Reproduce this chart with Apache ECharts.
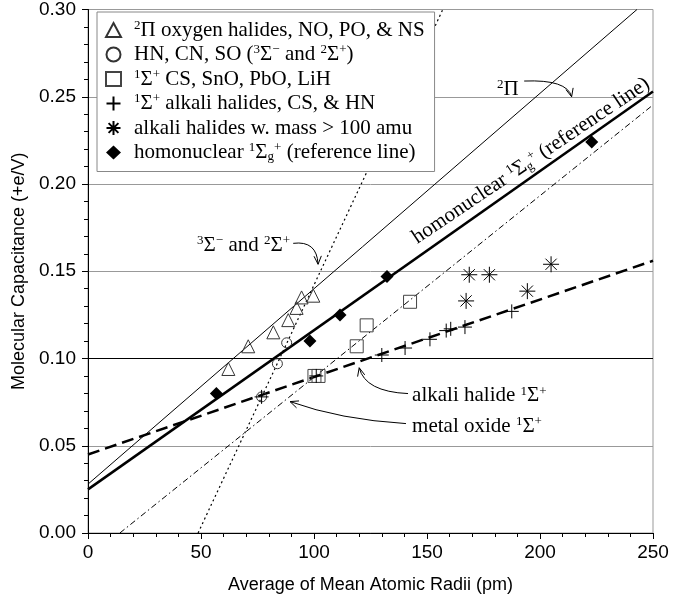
<!DOCTYPE html>
<html>
<head>
<meta charset="utf-8">
<script src="https://cdn.jsdelivr.net/npm/echarts@6/dist/echarts.min.js"></script>
<style>
html, body { margin: 0; padding: 0; background: #fff; }
#chart { width: 695px; height: 599px; }
</style>
</head>
<body>
<div id="chart"></div>
<script>
const xTicks = [0, 50, 100, 150, 200, 250]
const yTicks = [0, 0.05, 0.10, 0.15, 0.20, 0.25, 0.30]

// measured points [radius pm, capacitance e/V]
const piPts = [[62.1, 0.094], [70.9, 0.107], [82.0, 0.115], [88.6, 0.122], [92.3, 0.129], [94.5, 0.135], [99.7, 0.136]]
const mixPts = [[76.8, 0.078], [83.8, 0.097], [87.9, 0.109]]
const oxidePts = [[100.2, 0.090], [102.0, 0.090], [118.9, 0.107], [123.3, 0.119], [142.5, 0.1325]]
const alkaliPts = [[76.8, 0.078], [101.0, 0.090], [130.0, 0.102], [140.3, 0.106], [151.3, 0.111], [158.5, 0.116], [160.5, 0.117], [166.8, 0.118], [187.5, 0.127]]
const heavyPts = [[167.3, 0.133], [168.7, 0.148], [177.6, 0.148], [194.4, 0.1386], [204.9, 0.154]]
const homoPts = [[56.8, 0.080], [98.2, 0.110], [111.5, 0.125], [132.3, 0.147], [222.9, 0.224]]

// fitted lines (end points)
const piFit = [[0, 0.028], [242.9, 0.30]]
const homoFit = [[0, 0.025], [250, 0.253]]
const alkaliFit = [[0, 0.045], [250, 0.156]]
const oxideFit = [[14.1, 0], [250, 0.2453]]
const sigmaFit = [[48.7, 0], [157, 0.30]]

const serif = 'Liberation Serif'
const sans = 'Liberation Sans'

const legendText = {
    pi: '{gap| }{sup|2}Π oxygen halides, NO, PO, & NS',
    mix: '{gap| }HN, CN, SO ({sup|3}Σ{sup|−} and {sup|2}Σ{sup|+})',
    oxide: '{gap| }{sup|1}Σ{sup|+} CS, SnO, PbO, LiH',
    alkali: '{gap| }{sup|1}Σ{sup|+} alkali halides, CS, & HN',
    heavy: '{gap| }alkali halides w. mass > 100 amu',
    homo: '{gap| }homonuclear {sup|1}Σ{sub|g}{sup|+} (reference line)'
}

const plusPath = 'path://M0,5L10,5M5,0L5,10'
const starPath = 'path://M0,5L10,5M5,0L5,10M1.5,1.5L8.5,8.5M8.5,1.5L1.5,8.5'

const hollow = c => ({ color: 'transparent', borderColor: c, borderWidth: 1, opacity: 1 })

function scatter(name, data, symbol, size, itemStyle) {
    return {
        name: name,
        type: 'scatter',
        data: data,
        symbol: symbol,
        symbolSize: size,
        itemStyle: itemStyle,
        z: 5,
        silent: true
    }
}

function fit(data, width, type) {
    return {
        type: 'line',
        data: data,
        symbol: 'none',
        silent: true,
        z: 2,
        lineStyle: { color: '#000', width: width, type: type }
    }
}

const rich = {
    sup: { fontFamily: serif, fontSize: 13, lineHeight: 13, verticalAlign: 'top' },
    sub: { fontFamily: serif, fontSize: 13, lineHeight: 13, verticalAlign: 'bottom' },
    gap: { fontSize: 4, width: 8 }
}

const chart = echarts.init(document.getElementById('chart'))

const axisLabelStyle = { fontFamily: sans, fontSize: 19, color: '#000' }

chart.setOption({
    animation: false,
    grid: {
        left: 88, right: 42, top: 8, bottom: 65,
        show: true, borderColor: '#999', borderWidth: 1
    },
    legend: {
        left: 97, top: 12,
        orient: 'vertical',
        data: Object.keys(legendText),
        formatter: name => legendText[name],
        itemWidth: 15, itemHeight: 14, itemGap: 2.5,
        padding: [7, 10, 8, 8],
        backgroundColor: '#fff',
        borderColor: '#888', borderWidth: 1,
        textStyle: { fontFamily: serif, fontSize: 21, color: '#000', lineHeight: 22, rich: rich }
    },
    xAxis: [{
        type: 'value',
        min: xTicks[0], max: xTicks[xTicks.length - 1], interval: 50,
        name: 'Average of Mean Atomic Radii (pm)',
        nameLocation: 'middle', nameGap: 43,
        nameTextStyle: { fontFamily: sans, fontSize: 18, color: '#000' },
        axisLine: { lineStyle: { color: '#000', width: 1 } },
        axisTick: { inside: false, length: 5, lineStyle: { color: '#000' } },
        axisLabel: Object.assign({ margin: 10 }, axisLabelStyle),
        splitLine: { show: false }
    }, {
        type: 'value',
        min: xTicks[0], max: xTicks[xTicks.length - 1], interval: 50,
        axisLine: { show: false },
        axisTick: { inside: true, length: 6, lineStyle: { color: '#000' } },
        minorTick: { show: true, splitNumber: 5, length: 4, lineStyle: { color: '#000' } },
        axisLabel: { show: false },
        splitLine: { show: false }
    }],
    yAxis: [{
        type: 'value',
        min: yTicks[0], max: yTicks[yTicks.length - 1], interval: 0.05,
        name: 'Molecular Capacitance (+e/V)',
        nameLocation: 'middle', nameGap: 51,
        nameTextStyle: { fontFamily: sans, fontSize: 18, color: '#000' },
        axisLine: { lineStyle: { color: '#000', width: 1 } },
        axisTick: { inside: false, length: 5, lineStyle: { color: '#000' } },
        axisLabel: Object.assign({ margin: 12, formatter: v => v.toFixed(2) }, axisLabelStyle),
        splitLine: {
            show: true,
            lineStyle: { color: ['#000', '#999', '#000', '#999', '#999', '#999', '#999'], width: 1 }
        }
    }, {
        type: 'value',
        min: yTicks[0], max: yTicks[yTicks.length - 1], interval: 0.05,
        axisLine: { show: false },
        axisTick: { inside: true, length: 6, lineStyle: { color: '#000' } },
        minorTick: { show: true, splitNumber: 5, length: 4, lineStyle: { color: '#000' } },
        axisLabel: { show: false },
        splitLine: { show: false }
    }],
    series: [
        scatter('pi', piPts, 'triangle', 13, hollow('#333')),
        scatter('mix', mixPts, 'circle', 10, hollow('#333')),
        scatter('oxide', oxidePts, 'rect', 13, hollow('#444')),
        scatter('alkali', alkaliPts, plusPath, 14, hollow('#000')),
        scatter('heavy', heavyPts, starPath, 16, hollow('#000')),
        scatter('homo', homoPts, 'diamond', 13, { color: '#000', opacity: 1 }),
        fit(piFit, 1, 'solid'),
        fit(homoFit, 2.5, 'solid'),
        fit(alkaliFit, 2.5, [12, 6]),
        fit(oxideFit, 1, [6, 3, 1.5, 3]),
        fit(sigmaFit, 1.2, [2, 3])
    ]
})

// annotations, anchored in data coordinates
const px = p => chart.convertToPixel({ seriesIndex: 0 }, p)

function label(at, text, align, extra) {
    const p = px(at)
    return Object.assign({
        type: 'text', x: p[0], y: p[1], z: 10,
        style: {
            text: text, fontFamily: serif, fontSize: 21, fill: '#000',
            align: align, verticalAlign: 'middle', lineHeight: 22, rich: rich
        }
    }, extra || {})
}

function arrow(a, c, b) {
    const p0 = px(a), p1 = px(c), p2 = px(b)
    const ang = Math.atan2(p2[1] - p1[1], p2[0] - p1[0])
    const L = 9, w = 0.42
    return [{
        type: 'bezierCurve', z: 10,
        shape: { x1: p0[0], y1: p0[1], cpx1: p1[0], cpy1: p1[1], x2: p2[0], y2: p2[1] },
        style: { stroke: '#000', fill: 'none', lineWidth: 1 }
    }, {
        type: 'polyline', z: 10,
        shape: { points: [
            [p2[0] - L * Math.cos(ang - w), p2[1] - L * Math.sin(ang - w)],
            p2,
            [p2[0] - L * Math.cos(ang + w), p2[1] - L * Math.sin(ang + w)]
        ] },
        style: { stroke: '#000', fill: 'none', lineWidth: 1 }
    }]
}

const h0 = px(homoFit[0]), h1 = px(homoFit[1])
const homoAngle = Math.atan2(h0[1] - h1[1], h1[0] - h0[0]) - 0.02

const graphics = [
    label([181, 0.2544], '{sup|2}Π', 'left'),
    label([89.4, 0.165], '{sup|3}Σ{sup|−} and {sup|2}Σ{sup|+}', 'right'),
    label([143.4, 0.0787], 'alkali halide {sup|1}Σ{sup|+}', 'left'),
    label([143.4, 0.0610], 'metal oxide {sup|1}Σ{sup|+}', 'left'),
    label([196, 0.2133], 'homonuclear {sup|1}Σ{sub|g}{sup|+} (reference line)', 'center', { rotation: homoAngle })
].concat(
    arrow([193, 0.2590], [212, 0.2600], [214, 0.2500]),
    arrow([90.8, 0.1660], [101.3, 0.1677], [101.8, 0.1540]),
    arrow([141.6, 0.0799], [122.6, 0.0810], [120.0, 0.0947]),
    arrow([140.7, 0.0627], [111.5, 0.0650], [89.4, 0.0753])
)

chart.setOption({ graphic: graphics })
</script>
</body>
</html>
